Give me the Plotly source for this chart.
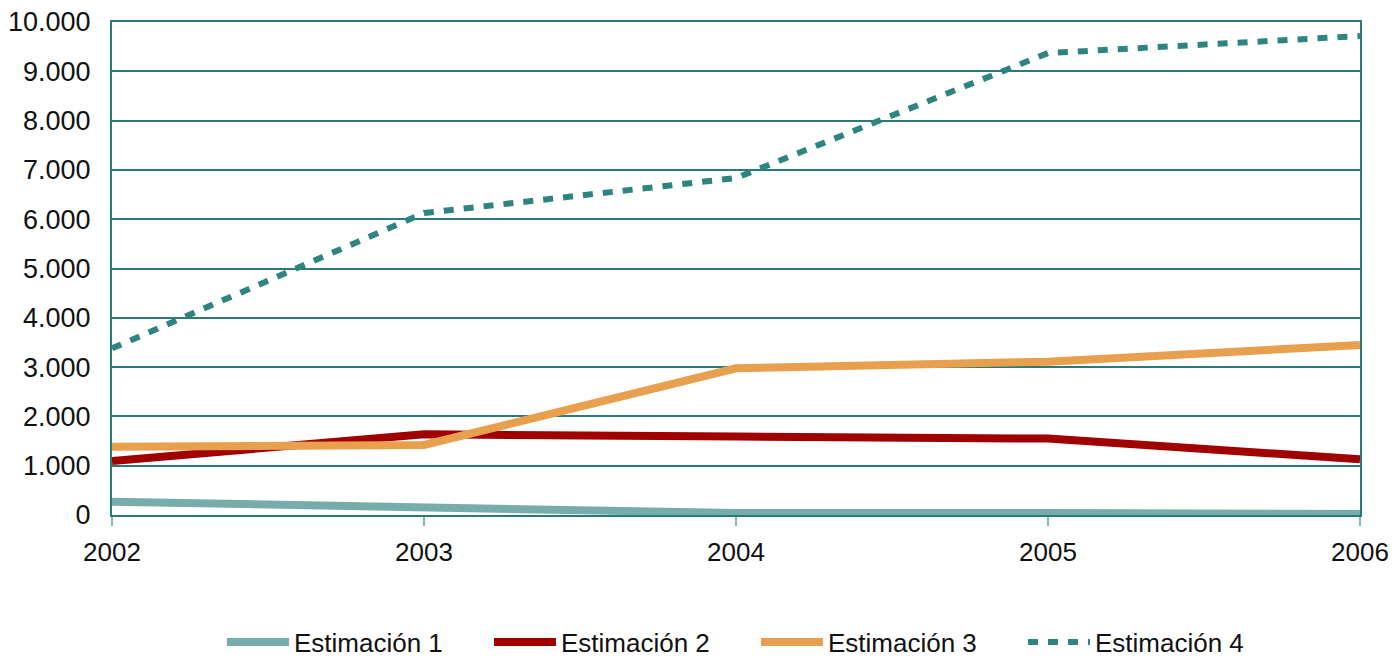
import plotly.graph_objects as go

years = [2002, 2003, 2004, 2005, 2006]
est1 = [270, 160, 40, 40, 20]
est2 = [1095, 1637, 1590, 1550, 1130]
est3 = [1385, 1420, 2975, 3110, 3450]
est4 = [3380, 6125, 6835, 9370, 9715]

names = ["Estimación 1", "Estimación 2", "Estimación 3", "Estimación 4"]
colors = ["#76ADAA", "#A00000", "#E8A04E", "#2E8580"]

fig = go.Figure()
for name, vals, col in zip(names[:3], [est1, est2, est3], colors[:3]):
    fig.add_trace(go.Scatter(x=years, y=vals, name=name, mode="lines",
                             line=dict(color=col, width=8)))
fig.add_trace(go.Scatter(x=years, y=est4, name=names[3], mode="lines",
                         line=dict(color=colors[3], width=6, dash="10px,10px")))

axis_col = "#2a7a78"
fig.update_layout(
    width=1394, height=658,
    margin=dict(l=112, r=34, t=22, b=143, autoexpand=False),
    plot_bgcolor="white", paper_bgcolor="white",
    separators=",.",
    font=dict(family="Liberation Sans", size=27, color="#111111"),
    showlegend=True,
    legend=dict(orientation="h", x=0.516, xanchor="center", y=-0.258, yanchor="middle",
                font=dict(size=26), entrywidth=190, entrywidthmode="pixels",
                itemwidth=62, tracegroupgap=0),
    xaxis=dict(range=[2002, 2006], tickvals=years, ticktext=[str(y) for y in years],
               showgrid=False, showline=True, linecolor=axis_col, linewidth=2,
               mirror=True, ticks="outside", ticklen=9, tickcolor="#7fbcb8", tickwidth=2,
               zeroline=False, automargin=False, ticklabelstandoff=4,
               ticklabeloverflow="allow", tickfont=dict(size=26)),
    yaxis=dict(range=[0, 10000], dtick=1000, tickformat=",d",
               showgrid=True, gridcolor=axis_col, gridwidth=1.5,
               showline=True, linecolor=axis_col, linewidth=2, mirror=True,
               zeroline=False, ticks="", automargin=False, ticklabelstandoff=14,
               ticklabeloverflow="allow", tickfont=dict(size=27)),
)

fig.write_html("out.html", config={"displayModeBar": False},
               post_script="document.body.style.margin='0';document.body.style.overflow='hidden';")
